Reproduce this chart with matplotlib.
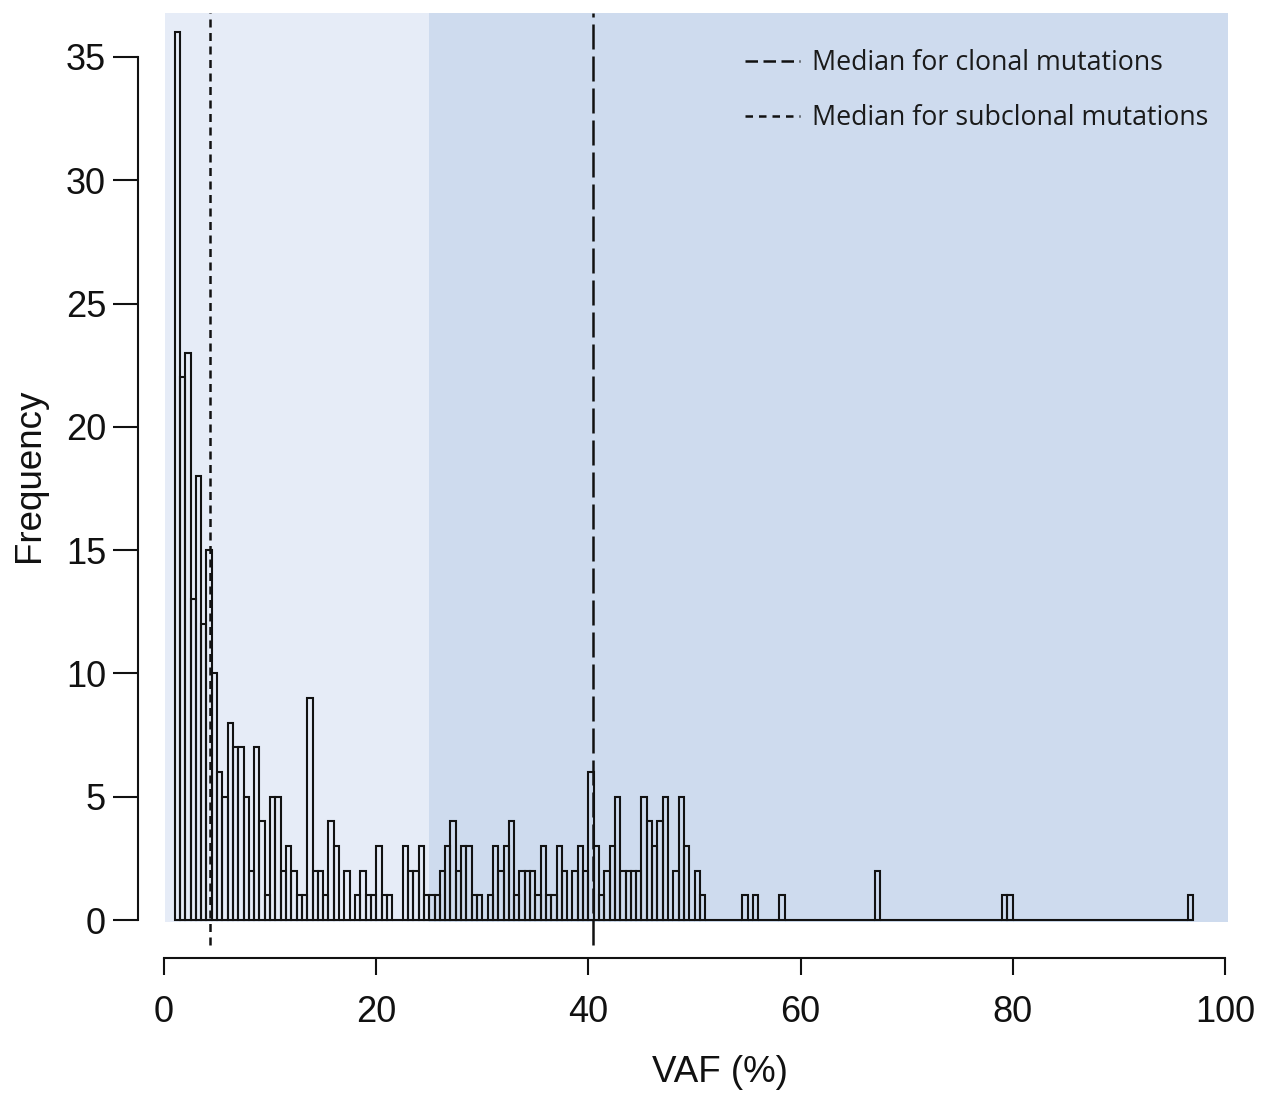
import numpy as np
import matplotlib
matplotlib.use("Agg")
import matplotlib.pyplot as plt
from matplotlib.lines import Line2D

# ---------------- data ----------------
bin_width = 0.5
# counts for bins starting at VAF 1.0, 1.5, ..., 50.5
dense_counts = [36, 22, 23, 13, 18, 12, 15, 10, 6, 5,
                8, 7, 7, 5, 2, 7, 4, 1, 5, 5,
                2, 3, 2, 1, 1, 9, 2, 2, 1, 4,
                3, 0, 2, 0, 1, 2, 1, 1, 3, 1,
                1, 0, 0, 3, 2, 2, 3, 1, 1, 1,
                2, 3, 4, 2, 3, 3, 1, 1, 0, 1,
                3, 2, 3, 4, 1, 2, 2, 2, 1, 3,
                1, 1, 3, 2, 0, 2, 3, 2, 6, 3,
                1, 2, 3, 5, 2, 2, 2, 2, 5, 4,
                3, 4, 5, 0, 2, 5, 3, 0, 2, 1]
dense_start = 1.0
# isolated bins above 51 %
sparse_lefts = [54.5, 55.5, 58.0, 67.0, 79.0, 79.5, 96.5]
sparse_counts = [1, 1, 1, 2, 1, 1, 1]
hist_end = 97.0

median_subclonal = 4.34
median_clonal = 40.46
subclonal_threshold = 25.0

x_ticks = [0, 20, 40, 60, 80, 100]
y_ticks = [0, 5, 10, 15, 20, 25, 30, 35]
legend_labels = ["Median for clonal mutations", "Median for subclonal mutations"]

# build full bin table
lefts = np.arange(dense_start, hist_end, bin_width)
counts = np.zeros(len(lefts))
counts[:len(dense_counts)] = dense_counts
for l, c in zip(sparse_lefts, sparse_counts):
    counts[int(round((l - dense_start) / bin_width))] = c

# ---------------- figure ----------------
W, H = 1263, 1093
fig = plt.figure(figsize=(W / 100, H / 100), dpi=100)

# axes box in pixels
ax_l, ax_r, ax_t, ax_b = 138, 1240, 5, 958
ax = fig.add_axes([ax_l / W, 1 - ax_b / H, (ax_r - ax_l) / W, (ax_b - ax_t) / H])
ax.patch.set_alpha(0)

# data <-> pixel calibration
px0, pxu = 164, 10.61
py0, pyu = 920, 24.66
ax.set_xlim((ax_l - px0) / pxu, (ax_r - px0) / pxu)
ax.set_ylim((py0 - ax_b) / pyu, (py0 - ax_t) / pyu)

light = "#E6ECF7"
dark = "#CEDBEE"
ytop = 36.8
ybot = -0.08
ax.add_patch(plt.Rectangle((0.1, ybot), subclonal_threshold - 0.1, ytop - ybot,
                           facecolor=light, edgecolor="none", zorder=0))
ax.add_patch(plt.Rectangle((subclonal_threshold, ybot), 100.3 - subclonal_threshold, ytop - ybot,
                           facecolor=dark, edgecolor="none", zorder=0))

ax.bar(lefts, counts, width=bin_width, align="edge", facecolor="none",
       edgecolor="#121212", linewidth=1.5, zorder=2)

ax.vlines(median_subclonal, -1.0, ytop, colors="#111111", linewidth=1.8,
          linestyles=(0, (3.2, 2.2)), zorder=3)
ax.vlines(median_clonal, -1.0, ytop, colors="#111111", linewidth=1.8,
          linestyles=(0, (10.0, 2.8)), zorder=3)

# axes styling
for s in ["top", "right"]:
    ax.spines[s].set_visible(False)
ax.spines["left"].set_bounds(0, 35)
ax.spines["bottom"].set_bounds(0, 100)
for s in ["left", "bottom"]:
    ax.spines[s].set_linewidth(1.5)
    ax.spines[s].set_color("#111111")

font = "Liberation Sans"
ax.set_xticks(x_ticks)
ax.set_yticks(y_ticks)
ax.set_xticklabels([str(t) for t in x_ticks], fontfamily=font, fontsize=26)
ax.set_yticklabels([str(t) for t in y_ticks], fontfamily=font, fontsize=26)
ax.tick_params(axis="x", length=12, width=1.5, pad=15, colors="#111111")
ax.tick_params(axis="y", length=18, width=1.5, pad=5, colors="#111111")

fig.text(30 / W, 1 - 475 / H, "Frequency", rotation=90, ha="center", va="center",
         fontfamily=font, fontsize=26.5, color="#111111")
fig.text(720 / W, 1 - 1073 / H, "VAF (%)", ha="center", va="center",
         fontfamily=font, fontsize=26.5, color="#111111")

handles = [Line2D([], [], color="#111111", lw=1.8, ls=(0, (5.0, 2.2))),
           Line2D([], [], color="#111111", lw=1.8, ls=(0, (3.0, 2.4)))]
leg = ax.legend(handles, legend_labels, loc="upper left",
                bbox_to_anchor=(745 / W, 1 - 49 / H), bbox_transform=fig.transFigure,
                frameon=False, borderpad=0, borderaxespad=0,
                handlelength=2.05, handletextpad=0.45, labelspacing=1.02,
                prop={"family": "Open Sans", "size": 19.3})
for t in leg.get_texts():
    t.set_color("#1a1a1a")

fig.savefig("out.png", dpi=100)
